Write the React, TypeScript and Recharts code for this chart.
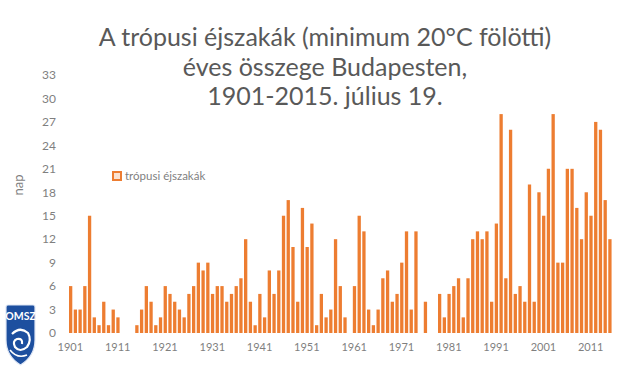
import React from 'react';
import { BarChart, Bar, XAxis, YAxis, Legend } from 'recharts';

// évek (kategóriák)
const years = [
  '1901', '1902', '1903', '1904', '1905', '1906', '1907', '1908', '1909', '1910',
  '1911', '1912', '1913', '1914', '1915', '1916', '1917', '1918', '1919', '1920',
  '1921', '1922', '1923', '1924', '1925', '1926', '1927', '1928', '1929', '1930',
  '1931', '1932', '1933', '1934', '1935', '1936', '1937', '1938', '1939', '1940',
  '1941', '1942', '1943', '1944', '1945', '1946', '1947', '1948', '1949', '1950',
  '1951', '1952', '1953', '1954', '1955', '1956', '1957', '1958', '1959', '1960',
  '1961', '1962', '1963', '1964', '1965', '1966', '1967', '1968', '1969', '1970',
  '1971', '1972', '1973', '1974', '1975', '1976', '1977', '1978', '1979', '1980',
  '1981', '1982', '1983', '1984', '1985', '1986', '1987', '1988', '1989', '1990',
  '1991', '1992', '1993', '1994', '1995', '1996', '1997', '1998', '1999', '2000',
  '2001', '2002', '2003', '2004', '2005', '2006', '2007', '2008', '2009', '2010',
  '2011', '2012', '2013', '2014', '2015',
];

// trópusi éjszakák száma évente
const nights = [
  6, 3, 3, 6, 15, 2, 1, 4, 1, 3,
  2, 0, 0, 0, 1, 3, 6, 4, 1, 2,
  6, 5, 4, 3, 2, 5, 6, 9, 8, 9,
  5, 6, 6, 4, 5, 6, 7, 12, 4, 1,
  5, 2, 8, 5, 8, 15, 17, 11, 4, 16,
  11, 14, 1, 5, 2, 3, 12, 6, 2, 0,
  6, 15, 13, 3, 1, 3, 7, 8, 4, 5,
  9, 13, 3, 13, 0, 4, 0, 0, 5, 2,
  5, 6, 7, 2, 7, 12, 13, 12, 13, 4,
  14, 28, 7, 26, 5, 6, 4, 19, 4, 18,
  15, 21, 28, 9, 9, 21, 21, 16, 12, 18,
  15, 27, 26, 17, 12,
];

const yTicks = [0, 3, 6, 9, 12, 15, 18, 21, 24, 27, 30, 33];

const titleLines = [
  'A trópusi éjszakák (minimum 20°C fölötti)',
  'éves összege Budapesten,',
  '1901-2015. július 19.',
];

const data = years.map((y, i) => ({ year: y, value: nights[i] }));

const ORANGE = '#ED7D31';
const GREY = '#7f7f7f';
const FONT = 'Lato, "Liberation Sans", sans-serif';

const LegendBox = () => (
  <div style={{ display: 'flex', alignItems: 'center', fontFamily: FONT, fontSize: 11.5, color: GREY }}>
    <span style={{ width: 6, height: 6, border: `2px solid ${ORANGE}`, background: '#fbe3d2', marginRight: 3 }} />
    <span>trópusi éjszakák</span>
  </div>
);

const Logo = () => (
  <g>
    <path
      d="M8,305 H33 Q35,305 35,307 V340 Q35,356 20.5,365 Q6,356 6,340 V307 Q6,305 8,305 Z"
      fill="#1d4f9f"
      stroke="#dfe7f5"
      strokeWidth={1.2}
    />
    <text x={20.5} y={320} textAnchor="middle" fill="#fff" fontSize={10.5} fontWeight="bold" fontFamily={FONT}>
      OMSZ
    </text>
    <path d="M12,334 Q20,326 28,333 Q32,340 27,347 Q20,353 15,347 Q12,341 17,339 Q23,338 22,344" fill="none" stroke="#fff" strokeWidth={2.2} />
    <path d="M10,350 Q17,359 27,355" fill="none" stroke="#fff" strokeWidth={1.6} />
  </g>
);

export default function App() {
  return (
    <div style={{ position: 'absolute', left: 0, top: 0, width: 639, height: 382, background: '#fff' }}>
      <BarChart
        width={639}
        height={382}
        data={data}
        margin={{ top: 75, right: 27, bottom: 0, left: 0 }}
        barSize={3.3}
      >
        <XAxis
          dataKey="year"
          interval={9}
          axisLine={false}
          tickLine={false}
          tickSize={0}
          tickMargin={10}
          height={36}
          tick={{ fill: GREY, fontSize: 11, fontFamily: FONT }}
        />
        <YAxis
          type="number"
          domain={[0, 33]}
          ticks={yTicks}
          axisLine={false}
          tickLine={false}
          tickSize={0}
          tickMargin={12}
          width={68}
          tick={{ fill: GREY, fontSize: 12, fontFamily: FONT }}
        />
        <Legend
          content={() => <LegendBox />}
          wrapperStyle={{ position: 'absolute', left: 112, top: 169, width: 'auto' }}
        />
        <Bar dataKey="value" name="trópusi éjszakák" fill={ORANGE} isAnimationActive={false} />
      </BarChart>
      <svg width={639} height={382} style={{ position: 'absolute', left: 0, top: 0, pointerEvents: 'none' }}>
        {titleLines.map((t, i) => (
          <text key={i} x={325} y={46 + i * 29.5} textAnchor="middle" fill="#595959" fontSize={25} fontFamily={FONT}>
            {t}
          </text>
        ))}
        <text x={23} y={185} transform="rotate(-90 23 185)" textAnchor="middle" fill={GREY} fontSize={13} fontFamily={FONT}>
          nap
        </text>
        <Logo />
      </svg>
    </div>
  );
}
